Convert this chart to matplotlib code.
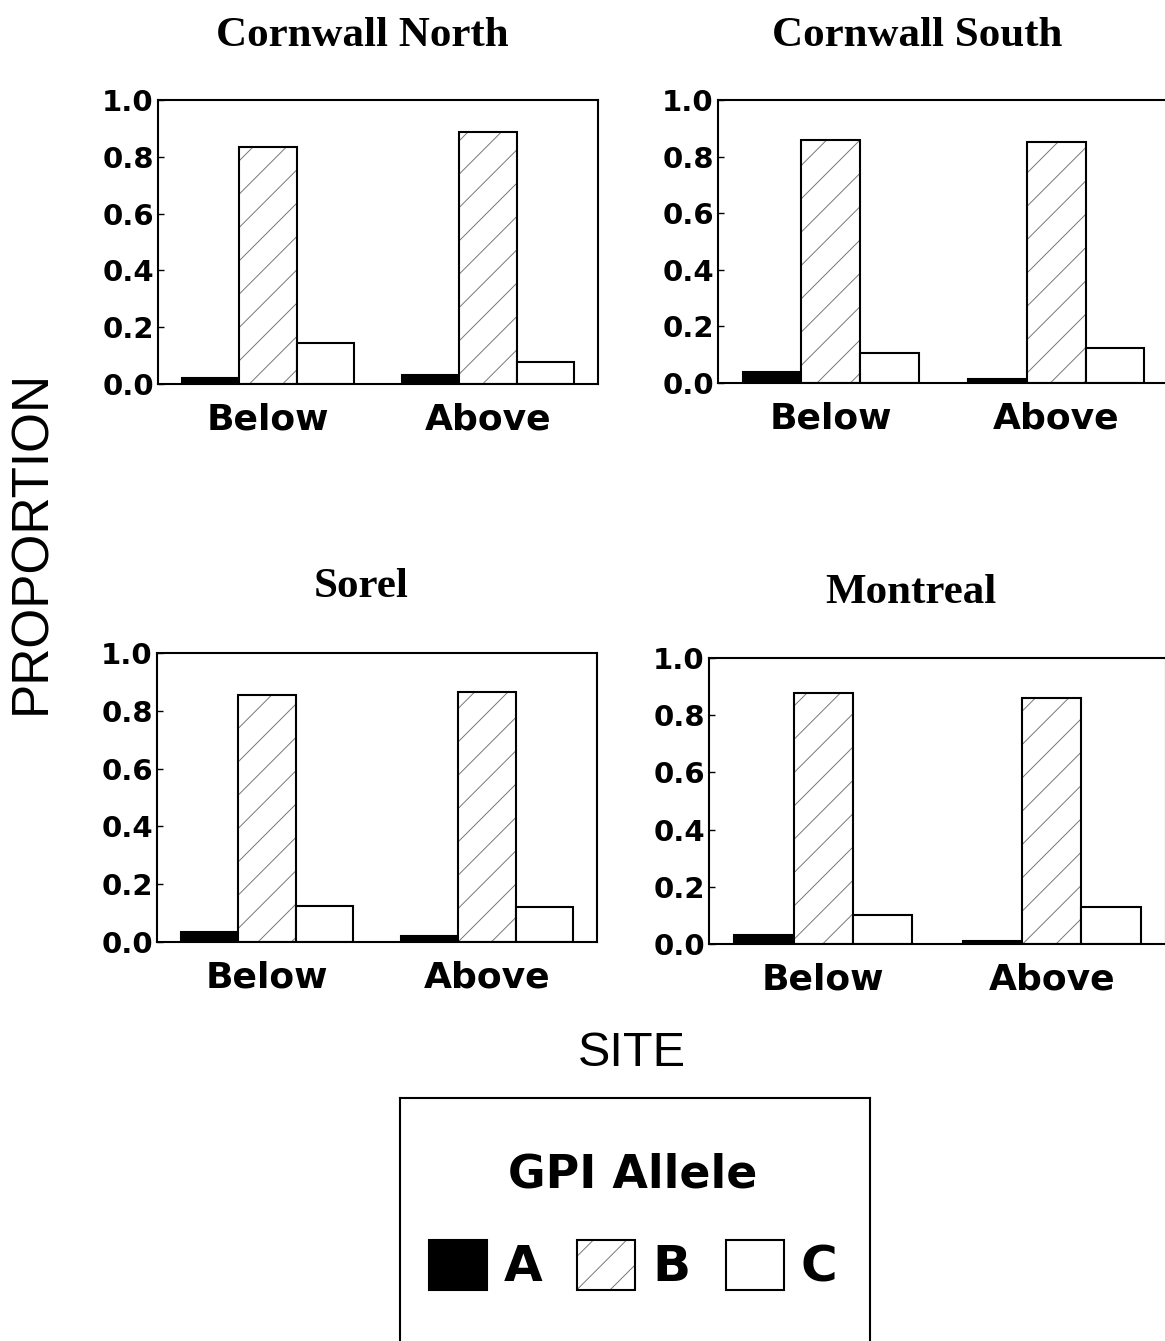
import matplotlib
matplotlib.use("Agg")
import matplotlib.pyplot as plt
from matplotlib.patches import Patch
from matplotlib.legend_handler import HandlerTuple
import numpy as np

# ---------------- data ----------------
sites = ["Cornwall North", "Cornwall South", "Sorel", "Montreal"]
positions = ["Below", "Above"]
alleles = ["A", "B", "C"]
allele_a = [[0.020, 0.030], [0.040, 0.015], [0.035, 0.020], [0.030, 0.012]]
allele_b = [[0.835, 0.888], [0.859, 0.850], [0.854, 0.865], [0.877, 0.860]]
allele_c = [[0.143, 0.079], [0.105, 0.125], [0.124, 0.121], [0.100, 0.130]]
y_ticks = [0.0, 0.2, 0.4, 0.6, 0.8, 1.0]
y_tick_labels = ["0.0", "0.2", "0.4", "0.6", "0.8", "1.0"]

# ---------------- layout ----------------
W, H = 1165, 1341
fig = plt.figure(figsize=(W / 100, H / 100), dpi=100)
fig.patch.set_facecolor("white")

def fx(px):
    return px / W

def fy(py):
    return 1 - py / H

# axes boxes (left, right, top, bottom) in pixels
boxes = [(158, 598, 100, 384), (718, 1169, 100, 383),
         (157, 597, 653, 942), (709, 1166, 658, 944)]
title_pos = [(362, 36), (917, 36), (361, 587), (911, 593)]

tick_font = "DejaVu Sans"
title_font = "Liberation Serif"
label_font = "Liberation Sans"
LW = 1.5
HATCH_COLOR = "#777777"
plt.rcParams["hatch.linewidth"] = 0.7

bw = 0.26
x = np.arange(len(positions))

for i, site in enumerate(sites):
    l, r, t, b = boxes[i]
    ax = fig.add_axes([fx(l), fy(b), fx(r - l), (b - t) / H])
    # allele A (black)
    ax.bar(x - bw, allele_a[i], bw, color="black", edgecolor="black", linewidth=LW)
    # allele B (hatched)
    ax.bar(x, allele_b[i], bw, color="white", edgecolor=HATCH_COLOR, hatch="/", linewidth=0)
    ax.bar(x, allele_b[i], bw, fill=False, edgecolor="black", linewidth=LW)
    # allele C (white)
    ax.bar(x + bw, allele_c[i], bw, color="white", edgecolor="black", linewidth=LW)

    ax.set_xlim(-0.5, 1.5)
    ax.set_ylim(0, 1.0)
    ax.set_yticks(y_ticks)
    ax.set_yticklabels(y_tick_labels, fontfamily=tick_font, fontweight="bold", fontsize=21)
    ax.set_xticks(x)
    ax.set_xticklabels(positions, fontfamily=tick_font, fontweight="bold", fontsize=26)
    ax.tick_params(axis="y", direction="in", length=4, width=1, pad=3)
    ax.tick_params(axis="x", length=0, pad=13)
    for sp in ax.spines.values():
        sp.set_linewidth(LW)
    tx, ty = title_pos[i]
    fig.text(fx(tx), fy(ty), site, ha="center", va="center",
             fontfamily=title_font, fontweight="bold", fontsize=31)

# axis labels
fig.text(fx(32), fy(542), "PROPORTION", rotation=90, ha="center", va="center",
         fontfamily=label_font, fontsize=37)
fig.text(fx(632), fy(1054), "SITE", ha="center", va="center",
         fontfamily=label_font, fontsize=35)

# legend box
lax = fig.add_axes([fx(400), -0.05, fx(470), (1341 - 1098) / H + 0.05])
lax.set_xticks([])
lax.set_yticks([])
for sp in lax.spines.values():
    sp.set_linewidth(LW)
lax.patch.set_alpha(0)

h_a = Patch(facecolor="black", edgecolor="black", linewidth=LW)
h_b = (Patch(facecolor="white", edgecolor=HATCH_COLOR, hatch="/", linewidth=0),
       Patch(fill=False, edgecolor="black", linewidth=LW))
h_c = Patch(facecolor="white", edgecolor="black", linewidth=LW)

leg = fig.legend([h_a, h_b, h_c], alleles, loc="center",
                 bbox_to_anchor=(fx(633), fy(1222)), ncol=3, frameon=False,
                 title="GPI Allele",
                 prop={"family": tick_font, "weight": "bold", "size": 36},
                 title_fontproperties={"family": tick_font, "weight": "bold", "size": 33},
                 handlelength=1.16, handleheight=1.16, handletextpad=0.34,
                 columnspacing=0.7, labelspacing=0.84,
                 handler_map={tuple: HandlerTuple(ndivide=1)})

fig.savefig("out.png", dpi=100, facecolor="white")
